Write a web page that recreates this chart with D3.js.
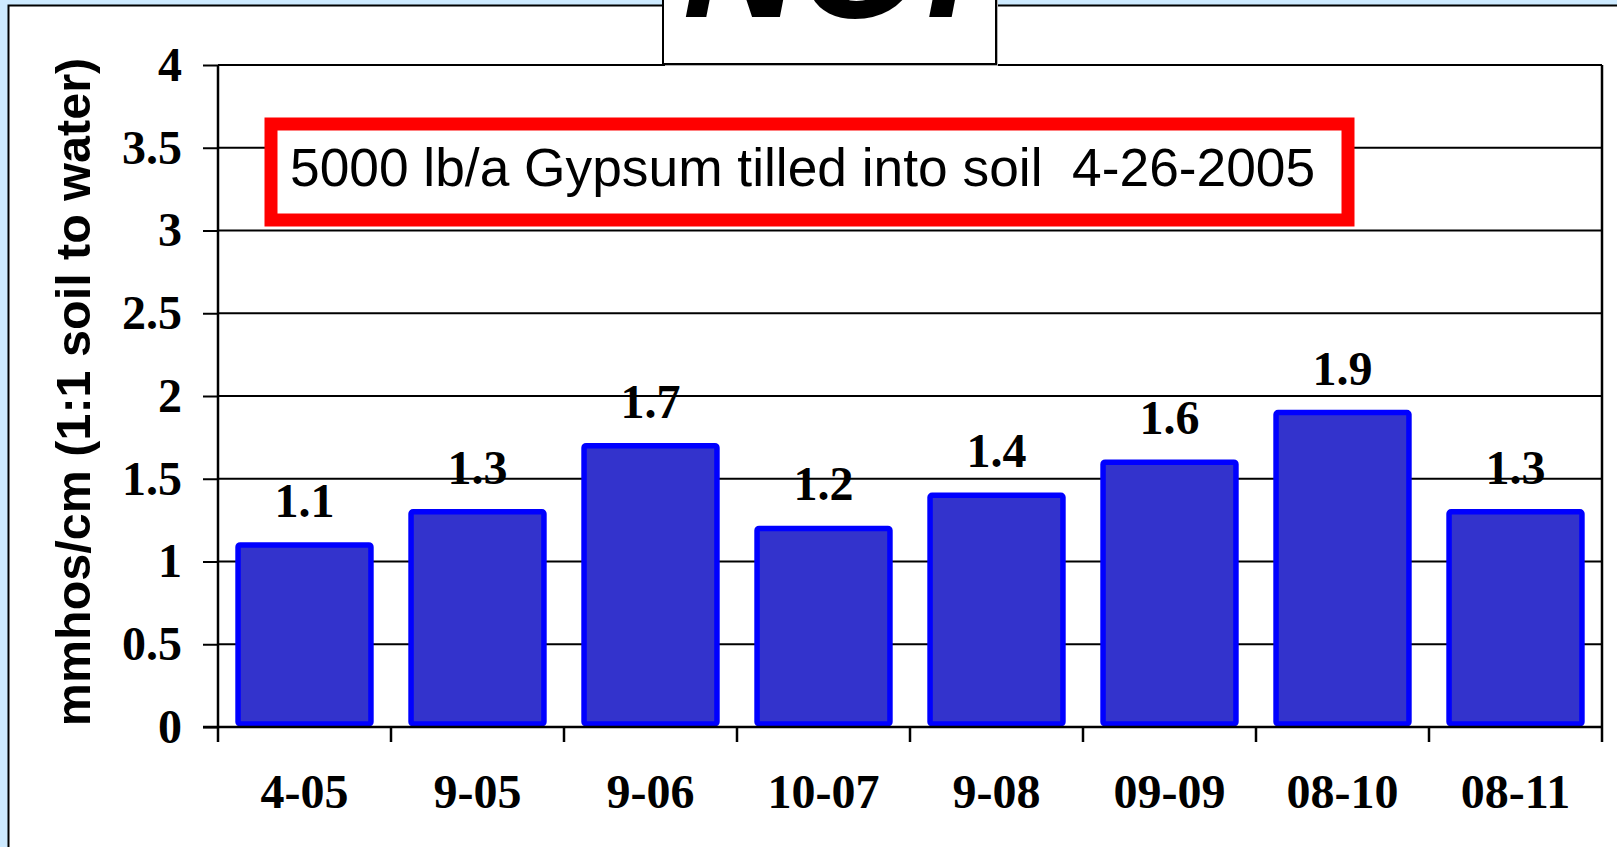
<!DOCTYPE html>
<html>
<head>
<meta charset="utf-8">
<script src="https://cdn.jsdelivr.net/npm/d3@7"></script>
<style>
  html, body { margin: 0; padding: 0; background: #cdeaff; overflow: hidden; }
  svg { display: block; }
</style>
</head>
<body>
<svg id="chart" width="1617" height="847"></svg>
<script>
// ---- data ----
const categories = ["4-05", "9-05", "9-06", "10-07", "9-08", "09-09", "08-10", "08-11"];
const values = [1.1, 1.3, 1.7, 1.2, 1.4, 1.6, 1.9, 1.3];
const yTicks = [0, 0.5, 1, 1.5, 2, 2.5, 3, 3.5, 4];
const yTickLabels = ["0", "0.5", "1", "1.5", "2", "2.5", "3", "3.5", "4"];
const yTitle = "mmhos/cm (1:1 soil to water)";
const noteText = "5000 lb/a Gypsum tilled into soil  4-26-2005";
const slideTitle = "NO!";

// ---- layout ----
const W = 1617, H = 847;
const plot = { left: 218, right: 1602, top: 65, bottom: 727 };

const svg = d3.select("#chart");

// outer slide panel
svg.append("rect")
  .attr("x", 0).attr("y", 0).attr("width", W).attr("height", H)
  .attr("fill", "#cdeaff");
svg.append("rect")
  .attr("x", 8.5).attr("y", 5.5).attr("width", W + 20).attr("height", H + 20)
  .attr("fill", "#ffffff").attr("stroke", "#000").attr("stroke-width", 2);

const x = d3.scaleBand()
  .domain(categories)
  .range([plot.left, plot.right])
  .paddingInner(0.2)
  .paddingOuter(0.1);

const y = d3.scaleLinear()
  .domain([0, 4])
  .range([plot.bottom, plot.top]);

// gridlines
svg.append("g")
  .selectAll("line")
  .data(yTicks.filter(d => d > 0))
  .join("line")
  .attr("x1", plot.left).attr("x2", plot.right)
  .attr("y1", d => y(d)).attr("y2", d => y(d))
  .attr("stroke", "#000").attr("stroke-width", 2);

// y axis (ticks + labels)
const yAxis = d3.axisLeft(y)
  .tickValues(yTicks)
  .tickFormat((d, i) => yTickLabels[i])
  .tickSize(15)
  .tickSizeOuter(0)
  .tickPadding(21);
const gy = svg.append("g")
  .attr("transform", `translate(${plot.left},0)`)
  .call(yAxis);
gy.select(".domain").remove();
gy.selectAll(".tick line").attr("stroke", "#000").attr("stroke-width", 2);
gy.selectAll(".tick text")
  .attr("fill", "#000")
  .style("font-family", "'Liberation Serif', 'Times New Roman', serif")
  .style("font-weight", "bold")
  .style("font-size", "48px");

// vertical frame lines (left axis & right border), extending down as end ticks
svg.append("line")
  .attr("x1", plot.left).attr("x2", plot.left)
  .attr("y1", plot.top).attr("y2", plot.bottom + 15)
  .attr("stroke", "#000").attr("stroke-width", 2.5);
svg.append("line")
  .attr("x1", plot.right).attr("x2", plot.right)
  .attr("y1", plot.top).attr("y2", plot.bottom + 15)
  .attr("stroke", "#000").attr("stroke-width", 2.5);

// x category boundary ticks
const bounds = d3.range(categories.length + 1).map(k => x.range()[0] + k * x.step());
svg.append("g")
  .selectAll("line")
  .data(bounds.slice(1, -1))
  .join("line")
  .attr("x1", d => d).attr("x2", d => d)
  .attr("y1", plot.bottom).attr("y2", plot.bottom + 15)
  .attr("stroke", "#000").attr("stroke-width", 2.5);

// note box (red)
svg.append("rect")
  .attr("x", 271).attr("y", 124).attr("width", 1077).attr("height", 96)
  .attr("fill", "#fff").attr("stroke", "#ff0000").attr("stroke-width", 13);
svg.append("text")
  .attr("x", 290).attr("y", 186)
  .attr("xml:space", "preserve")
  .style("white-space", "pre")
  .style("font-family", "'Liberation Sans', Arial, sans-serif")
  .style("font-size", "53.3px")
  .attr("fill", "#000")
  .text(noteText);

// bars
const sw = 5.5;
svg.append("g")
  .selectAll("rect")
  .data(values)
  .join("rect")
  .attr("x", (d, i) => x(categories[i]) + sw / 2)
  .attr("width", x.bandwidth() - sw)
  .attr("y", d => y(d))
  .attr("height", d => y(0) - 3 - y(d))
  .attr("rx", 2).attr("ry", 2)
  .attr("fill", "#3333cc")
  .attr("stroke", "#0000ff")
  .attr("stroke-width", sw);

// x axis baseline
svg.append("line")
  .attr("x1", plot.left - 15).attr("x2", plot.right)
  .attr("y1", plot.bottom).attr("y2", plot.bottom)
  .attr("stroke", "#000").attr("stroke-width", 2.5);

// value labels
svg.append("g")
  .selectAll("text")
  .data(values)
  .join("text")
  .attr("x", (d, i) => x(categories[i]) + x.bandwidth() / 2)
  .attr("y", d => y(d) - 28)
  .attr("text-anchor", "middle")
  .style("font-family", "'Liberation Serif', 'Times New Roman', serif")
  .style("font-weight", "bold")
  .style("font-size", "48px")
  .attr("fill", "#000")
  .text(d => d3.format(".1f")(d));

// x labels
svg.append("g")
  .selectAll("text")
  .data(categories)
  .join("text")
  .attr("x", d => x(d) + x.bandwidth() / 2)
  .attr("y", 808)
  .attr("text-anchor", "middle")
  .style("font-family", "'Liberation Serif', 'Times New Roman', serif")
  .style("font-weight", "bold")
  .style("font-size", "48px")
  .attr("fill", "#000")
  .text(d => d);

// y title
svg.append("text")
  .attr("transform", "translate(90,392) rotate(-90)")
  .attr("text-anchor", "middle")
  .style("font-family", "'Liberation Sans', Arial, sans-serif")
  .style("font-weight", "bold")
  .style("font-size", "48.5px")
  .attr("fill", "#000")
  .text(yTitle);

// slide title box (cut off at top, as in the original slide)
svg.append("rect")
  .attr("x", 665).attr("y", -40).attr("width", 333).attr("height", 106)
  .attr("fill", "#b0b0b0");
svg.append("rect")
  .attr("x", 663).attr("y", -40).attr("width", 333).attr("height", 104)
  .attr("fill", "#fff").attr("stroke", "#000").attr("stroke-width", 2);
svg.append("text")
  .attr("x", 683).attr("y", 17)
  .style("font-family", "'Liberation Sans', Arial, sans-serif")
  .style("font-weight", "bold")
  .style("font-style", "italic")
  .style("font-size", "160px")
  .attr("fill", "#000")
  .text(slideTitle);
</script>
</body>
</html>
